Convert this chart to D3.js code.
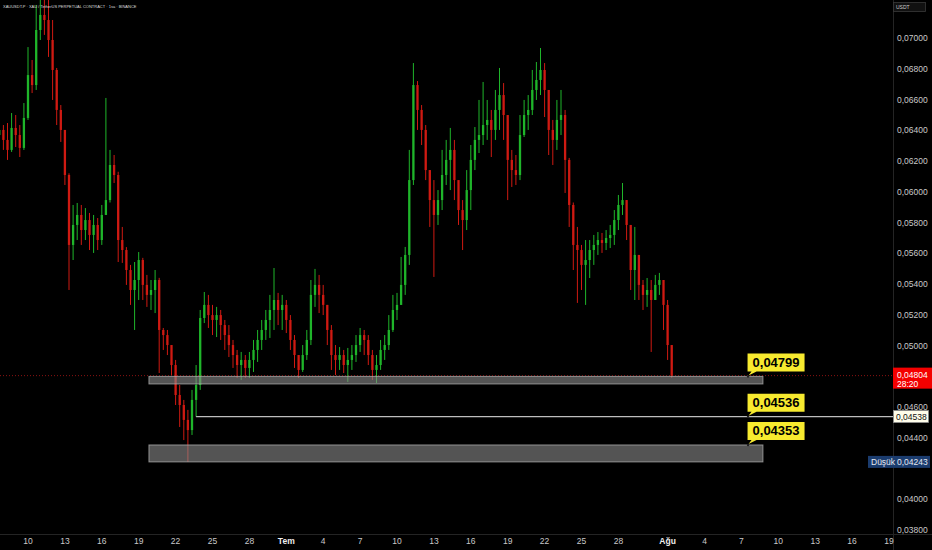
<!DOCTYPE html>
<html><head><meta charset="utf-8">
<script src="https://cdn.jsdelivr.net/npm/d3@7"></script>
<style>html,body{margin:0;padding:0;background:#000;overflow:hidden}</style>
</head><body><svg id="c" width="932" height="550"></svg>
<script>
const title = "XAUUSDT.P · XAU / TetherUS PERPETUAL CONTRACT · 1sa · BINANCE";
const firstCandle = new Date(2025, 5, 7, 16);
const candleHours = 8;

const open = [
.06369,.06402,.06337,.06272,.06415,.06369,.06285,.06480,.06759,.06694,
.07052,.07150,.07117,.06987,.06792,.06532,.06402,.06109,.05654,.05784,
.05849,.05751,.05816,.05719,.05784,.05686,.05849,.05946,.06174,.06109,
.05686,.05621,.05491,.05361,.05426,.05556,.05394,.05329,.05361,.05426,
.05101,.05068,.05003,.04873,.04678,.04613,.04516,.04450,.04646,.04743,
.05179,.05264,.05198,.05166,.05198,.05133,.05068,.05003,.04938,.04873,
.04906,.04854,.04906,.04971,.05036,.05101,.05166,.05231,.05296,.05231,
.05264,.05166,.05036,.04938,.04841,.04938,.05036,.05329,.05394,.05329,
.05264,.05101,.04938,.04906,.04938,.04873,.04906,.04938,.05003,.05068,
.05036,.04938,.04841,.04873,.04971,.05003,.05101,.05231,.05264,.05394,
.05589,.06076,.06694,.06532,.06402,.06141,.05946,.05849,.05946,.06109,
.06207,.06272,.06076,.05881,.05816,.06011,.06207,.06337,.06369,.06434,
.06467,.06402,.06532,.06629,.06499,.06207,.06141,.06109,.06369,.06499,
.06532,.06662,.06727,.06792,.06662,.06402,.06337,.06467,.06499,.06207,
.05914,.05654,.05621,.05524,.05556,.05621,.05654,.05686,.05667,.05699,
.05719,.05816,.05914,.05946,.05784,.05491,.05589,.05394,.05329,.05361,
.05296,.05394,.05426,.05264,.05003];

const close = [
.06402,.06337,.06272,.06415,.06369,.06285,.06480,.06759,.06694,.07052,
.07150,.07117,.06987,.06792,.06532,.06402,.06109,.05654,.05784,.05849,
.05751,.05816,.05719,.05784,.05686,.05849,.05946,.06174,.06109,.05686,
.05621,.05491,.05361,.05426,.05556,.05394,.05329,.05361,.05426,.05101,
.05068,.05003,.04873,.04678,.04613,.04516,.04450,.04646,.04743,.05179,
.05264,.05198,.05166,.05198,.05133,.05068,.05003,.04938,.04873,.04906,
.04854,.04906,.04971,.05036,.05101,.05166,.05231,.05296,.05231,.05264,
.05166,.05036,.04938,.04841,.04938,.05036,.05329,.05394,.05329,.05264,
.05101,.04938,.04906,.04938,.04873,.04906,.04938,.05003,.05068,.05036,
.04938,.04841,.04873,.04971,.05003,.05101,.05231,.05264,.05394,.05589,
.06076,.06694,.06532,.06402,.06141,.05946,.05849,.05946,.06109,.06207,
.06272,.06076,.05881,.05816,.06011,.06207,.06337,.06369,.06434,.06467,
.06402,.06532,.06629,.06499,.06207,.06141,.06109,.06369,.06499,.06532,
.06662,.06727,.06792,.06662,.06402,.06337,.06467,.06499,.06207,.05914,
.05654,.05621,.05524,.05556,.05621,.05654,.05686,.05667,.05699,.05719,
.05816,.05914,.05946,.05784,.05491,.05589,.05394,.05329,.05361,.05296,
.05394,.05426,.05264,.05003,.04804];

const high = [
.06434,.06434,.06447,.06512,.06499,.06434,.06577,.06941,.06857,.07215,
.07280,.07280,.07247,.07117,.06805,.06564,.06402,.06120,.05914,.05927,
.05914,.05894,.05862,.05849,.05829,.05914,.06610,.06272,.06239,.06130,
.05771,.05640,.05524,.05543,.05608,.05570,.05459,.05426,.05491,.05440,
.05114,.05101,.05003,.04906,.04743,.04646,.04581,.04711,.04873,.05231,
.05348,.05329,.05264,.05251,.05231,.05166,.05133,.05036,.04971,.04958,
.04938,.04958,.05036,.05101,.05166,.05231,.05329,.05504,.05342,.05329,
.05296,.05198,.05068,.04938,.05003,.05101,.05426,.05498,.05459,.05394,
.05264,.05133,.05003,.04990,.04971,.04984,.05003,.05068,.05114,.05101,
.05068,.04971,.04938,.05036,.05068,.05198,.05329,.05342,.05576,.05641,
.06272,.06837,.06720,.06564,.06434,.06141,.06076,.06011,.06272,.06337,
.06415,.06337,.06011,.05946,.06141,.06304,.06421,.06597,.06714,.06597,
.06532,.06662,.06805,.06707,.06467,.06272,.06239,.06499,.06597,.06629,
.06792,.06844,.06935,.06837,.06597,.06467,.06597,.06662,.06532,.06220,
.05930,.05771,.05654,.05686,.05686,.05719,.05738,.05732,.05751,.05784,
.05881,.05979,.06057,.05946,.05784,.05771,.05589,.05426,.05439,.05426,
.05459,.05472,.05394,.05296,.05003];

const low = [
.06285,.06272,.06207,.06259,.06291,.06226,.06272,.06467,.06642,.06662,
.06987,.07020,.06877,.06597,.06434,.06324,.06044,.05361,.05556,.05686,
.05654,.05686,.05621,.05602,.05621,.05654,.05849,.05930,.06057,.05543,
.05537,.05394,.05264,.05101,.05296,.05296,.05251,.05231,.05211,.04821,
.04971,.04938,.04808,.04613,.04470,.04385,.04243,.04418,.04536,.04711,
.05146,.05114,.05068,.05055,.05036,.04971,.04925,.04854,.04789,.04776,
.04789,.04789,.04828,.04893,.04971,.05036,.05049,.05101,.05133,.05101,
.05081,.04971,.04854,.04789,.04828,.04906,.05003,.05251,.05211,.05198,
.05003,.04841,.04808,.04841,.04821,.04763,.04841,.04893,.04958,.04938,
.04873,.04776,.04756,.04841,.04906,.04971,.05088,.05166,.05264,.05329,
.05524,.06044,.06402,.06304,.06076,.05771,.05446,.05784,.05881,.06044,
.06011,.05946,.05784,.05621,.05751,.05881,.06141,.06252,.06304,.06337,
.06226,.06337,.06402,.06337,.05946,.06031,.06044,.06076,.06356,.06402,
.06499,.06597,.06629,.06486,.06239,.06174,.06272,.06369,.05992,.05771,
.05491,.05277,.05361,.05264,.05439,.05524,.05589,.05602,.05621,.05634,
.05654,.05751,.05849,.05686,.05361,.05296,.05296,.05231,.05251,.04958,
.05296,.05329,.05101,.04906,.04790];

// price scale labels visible in the reference (0,04800 and 0,04200 are covered by overlay labels there)
const priceTicks = [0.070,0.068,0.066,0.064,0.062,0.060,0.058,0.056,0.054,0.052,0.050,0.046,0.044,0.040,0.038];
const timeTickDates = [
  new Date(2025,5,10),new Date(2025,5,13),new Date(2025,5,16),new Date(2025,5,19),new Date(2025,5,22),
  new Date(2025,5,25),new Date(2025,5,28),new Date(2025,6,1),new Date(2025,6,4),new Date(2025,6,7),
  new Date(2025,6,10),new Date(2025,6,13),new Date(2025,6,16),new Date(2025,6,19),new Date(2025,6,22),
  new Date(2025,6,25),new Date(2025,6,28),new Date(2025,7,1),new Date(2025,7,4),new Date(2025,7,7),
  new Date(2025,7,10),new Date(2025,7,13),new Date(2025,7,16),new Date(2025,7,19)];
const timeTickLabels = ["10","13","16","19","22","25","28","Tem","4","7","10","13","16","19","22","25","28","Ağu","4","7","10","13","16","19"];
const monthLabels = ["Tem","Ağu"];

const zoneTops = [0.04799, 0.04353];
const zoneBottoms = [0.04750, 0.04243];
const zoneStart = new Date(2025,5,19,20);
const zoneEnd = new Date(2025,7,8,18);
const calloutValues = [0.04799, 0.04536, 0.04353];
const calloutDate = new Date(2025,7,7,12);
const levelLine = 0.04538;
const levelLineStart = new Date(2025,5,23,16);
const lastPrice = 0.04804;
const countdown = "28:20";
const lowestPrice = 0.04243;
const lowestLabel = "Düşük";
const currency = "USDT";

const W = 932, H = 550, plotR = 893, plotB = 534;
const UP = "#1fb52a", DOWN = "#cf1a12";
const fmt = v => d3.format(".5f")(v).replace(".", ",");
const font = "Liberation Sans, Arial, sans-serif";

const svg = d3.select("#c");
svg.append("rect").attr("width", W).attr("height", H).attr("fill", "#000");

const x = d3.scaleTime().domain([new Date(2025,5,10), new Date(2025,7,19)]).range([28, 889]);
const y = d3.scaleLinear().domain([0.070, 0.038]).range([38, 530]);

svg.append("defs").append("clipPath").attr("id", "clip")
  .append("rect").attr("x", 0).attr("y", 0).attr("width", plotR).attr("height", plotB);

const candles = close.map((c, i) => ({
  t: d3.timeHour.offset(firstCandle, i * candleHours), o: open[i], h: high[i], l: low[i], c
}));

const g = svg.append("g").attr("clip-path", "url(#clip)");

g.append("line").attr("x1", 0).attr("x2", plotR)
  .attr("y1", y(lastPrice)).attr("y2", y(lastPrice))
  .attr("stroke", "#8a1212").attr("stroke-width", 1).attr("stroke-dasharray", "1,2");

const bw = 2.3;
g.selectAll("line.wick").data(candles).join("line").attr("class", "wick")
  .attr("x1", d => x(d.t)).attr("x2", d => x(d.t))
  .attr("y1", d => y(d.h)).attr("y2", d => y(d.l))
  .attr("stroke", d => d.c >= d.o ? UP : DOWN).attr("stroke-width", 1);
g.selectAll("rect.body").data(candles).join("rect").attr("class", "body")
  .attr("x", d => x(d.t) - bw / 2).attr("width", bw)
  .attr("y", d => y(Math.max(d.o, d.c)))
  .attr("height", d => Math.max(1, Math.abs(y(d.o) - y(d.c))))
  .attr("fill", d => d.c >= d.o ? UP : DOWN);

zoneTops.forEach((top, i) => {
  svg.append("rect")
    .attr("x", x(zoneStart)).attr("width", x(zoneEnd) - x(zoneStart))
    .attr("y", y(top)).attr("height", y(zoneBottoms[i]) - y(top))
    .attr("fill", "rgba(140,140,140,0.6)")
    .attr("stroke", "rgba(175,175,175,0.75)").attr("stroke-width", 1);
});

svg.append("line").attr("x1", x(levelLineStart)).attr("x2", plotR)
  .attr("y1", y(levelLine)).attr("y2", y(levelLine))
  .attr("stroke", "#bdbdbd").attr("stroke-width", 1.2);

calloutValues.forEach(v => {
  const ax = x(calloutDate), ay = y(v);
  const bx = ax, bTop = ay - 23, bBot = ay - 5, bwid = 57;
  svg.append("path")
    .attr("d", `M${bx},${bTop} H${bx + bwid} V${bBot} H${bx + 9} L${ax + 1},${ay - 1} L${bx + 4},${bBot} H${bx} Z`)
    .attr("fill", "#f7ea2f");
  svg.append("circle").attr("cx", ax + 0.5).attr("cy", ay).attr("r", 1.2).attr("fill", "#222");
  svg.append("text").attr("x", bx + bwid / 2).attr("y", bTop + 13.5)
    .attr("text-anchor", "middle").attr("font-family", font)
    .attr("font-weight", "bold").attr("font-size", 13).attr("fill", "#000").text(fmt(v));
});

svg.append("line").attr("x1", plotR + 0.5).attr("x2", plotR + 0.5).attr("y1", 0).attr("y2", H)
  .attr("stroke", "#242424");
svg.append("line").attr("x1", 0).attr("x2", W).attr("y1", plotB + 0.5).attr("y2", plotB + 0.5)
  .attr("stroke", "#242424");

svg.selectAll("text.pt").data(priceTicks).join("text").attr("class", "pt")
  .attr("x", 897).attr("y", d => y(d) + 3)
  .attr("font-family", font).attr("font-size", 8.5).attr("fill", "#c9c9c9")
  .text(d => fmt(d));

svg.selectAll("text.tt").data(timeTickDates).join("text").attr("class", "tt")
  .attr("x", d => x(d)).attr("y", 544).attr("text-anchor", "middle")
  .attr("font-family", font).attr("font-size", 8.5)
  .attr("font-weight", (d, i) => monthLabels.includes(timeTickLabels[i]) ? "bold" : "normal")
  .attr("fill", (d, i) => monthLabels.includes(timeTickLabels[i]) ? "#eee" : "#c9c9c9")
  .text((d, i) => timeTickLabels[i]);

const ly = y(lastPrice);
svg.append("rect").attr("x", plotR).attr("y", ly - 8).attr("width", 39).attr("height", 21).attr("fill", "#f40000");
svg.append("text").attr("x", 897).attr("y", ly + 2).attr("font-family", font).attr("font-size", 8.5)
  .attr("fill", "#fff").text(fmt(lastPrice));
svg.append("text").attr("x", 897).attr("y", ly + 11).attr("font-family", font).attr("font-size", 8.5)
  .attr("fill", "#fff").text(countdown);

const lly = y(levelLine);
svg.append("rect").attr("x", plotR + 0.5).attr("y", lly - 6).attr("width", 35).attr("height", 12)
  .attr("fill", "#fffdea").attr("stroke", "#8a8a8a").attr("stroke-width", 0.8);
svg.append("text").attr("x", 896).attr("y", lly + 3).attr("font-family", font).attr("font-size", 8.5)
  .attr("fill", "#111").text(fmt(levelLine));

const lwy = y(lowestPrice);
svg.append("rect").attr("x", 868).attr("y", lwy - 6).attr("width", 62).attr("height", 12).attr("fill", "#1b3c6e");
svg.append("text").attr("x", 871).attr("y", lwy + 3).attr("font-family", font).attr("font-size", 8.5)
  .attr("fill", "#e6e9f0").text(lowestLabel);
svg.append("text").attr("x", 897).attr("y", lwy + 3).attr("font-family", font).attr("font-size", 8.5)
  .attr("fill", "#e6e9f0").text(fmt(lowestPrice));

svg.append("rect").attr("x", 893.5).attr("y", 2.5).attr("width", 32).attr("height", 9)
  .attr("fill", "#111").attr("stroke", "#3a3a3a").attr("stroke-width", 0.8);
svg.append("text").attr("x", 896).attr("y", 9).attr("font-family", font).attr("font-size", 5)
  .attr("fill", "#ccc").text(currency);

svg.append("text").attr("x", 3).attr("y", 8).attr("font-family", font).attr("font-size", 4)
  .attr("fill", "#dcdcdc").text(title);
</script></body></html>
